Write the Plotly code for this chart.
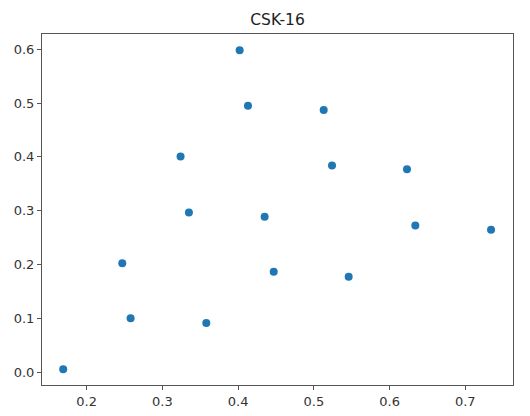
import plotly.graph_objects as go

x_vals = [0.169, 0.247, 0.258, 0.324, 0.335, 0.358, 0.402, 0.413, 0.435, 0.447,
          0.513, 0.524, 0.546, 0.623, 0.634, 0.734]
y_vals = [0.006, 0.203, 0.101, 0.401, 0.297, 0.092, 0.598, 0.495, 0.289, 0.187,
          0.487, 0.384, 0.178, 0.377, 0.273, 0.265]
x_ticks = [0.2, 0.3, 0.4, 0.5, 0.6, 0.7]
y_ticks = [0.0, 0.1, 0.2, 0.3, 0.4, 0.5, 0.6]
title = "CSK-16"

fig = go.Figure(go.Scatter(
    x=x_vals, y=y_vals, mode="markers",
    marker=dict(color="#1f77b4", size=8, line=dict(width=0)),
))

axis_common = dict(
    showgrid=False, zeroline=False, showline=True, linecolor="#555555", linewidth=1,
    mirror=True, ticks="outside", ticklen=4, tickcolor="#555555", tickwidth=1,
    tickfont=dict(family="DejaVu Sans", size=13, color="#333333"),
    automargin=False,
)

# page body has an 8px offset, so the figure is sized to fill the remaining window
fig.update_layout(
    width=522, height=408,
    margin=dict(l=34, r=17, t=26, b=31, autoexpand=False),
    paper_bgcolor="white", plot_bgcolor="white",
    showlegend=False,
    title=dict(text=title, x=0.5, xanchor="center", xref="paper",
               y=1 - 12 / 408, yref="container", yanchor="middle",
               font=dict(family="DejaVu Sans", size=15.5, color="#222222")),
    xaxis=dict(range=[0.141, 0.763], tickvals=x_ticks,
               ticktext=[f"{v:.1f}" for v in x_ticks], **axis_common),
    yaxis=dict(range=[-0.023, 0.628], tickvals=y_ticks,
               ticktext=[f"{v:.1f}" for v in y_ticks], **axis_common),
)

fig.write_html("out.html")
